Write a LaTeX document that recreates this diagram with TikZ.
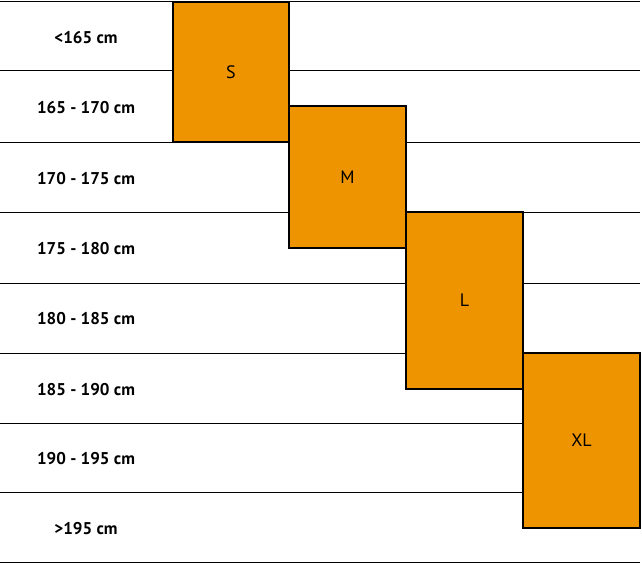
\documentclass[tikz,border=0pt]{standalone}
\usepackage{fontspec}
\setmainfont{PT Sans}
\begin{document}
\begin{tikzpicture}
    [
    x=1pt,y=-1pt,
    row/.style={font=\bfseries\fontsize{17}{20}\selectfont,anchor=center},
    sizebox/.style={draw,fill=sizeorange,line width=1.2pt},
    sizelabel/.style={font=\fontsize{18}{20}\selectfont},
    ]
    \definecolor{sizeorange}{HTML}{EE9400}
    \useasboundingbox (0,0) rectangle (642,564);
    \foreach \y in {1,70,142,212,283,353,423,492,562}
      \draw [line width=0.6pt] (0,\y) -- (640,\y);

    \node (r1) [row] at (86,38) {<165 cm};
    \node (r2) [row] at (86,108) {165 - 170 cm};
    \node (r3) [row] at (86,179) {170 - 175 cm};
    \node (r4) [row] at (86,249) {175 - 180 cm};
    \node (r5) [row] at (86,319) {180 - 185 cm};
    \node (r6) [row] at (86,390) {185 - 190 cm};
    \node (r7) [row] at (86,459) {190 - 195 cm};
    \node (r8) [row] at (86,529) {>195 cm};

    \draw [sizebox] (173,2) rectangle node (s) [sizelabel] {S} (289,142);
    \draw [sizebox] (289,106) rectangle node (m) [sizelabel] {M} (406,248);
    \draw [sizebox] (406,212) rectangle node (l) [sizelabel] {L} (523,389);
    \draw [sizebox] (523,353) rectangle node (xl) [sizelabel] {XL} (640,528);
  \end{tikzpicture}
\end{document}
